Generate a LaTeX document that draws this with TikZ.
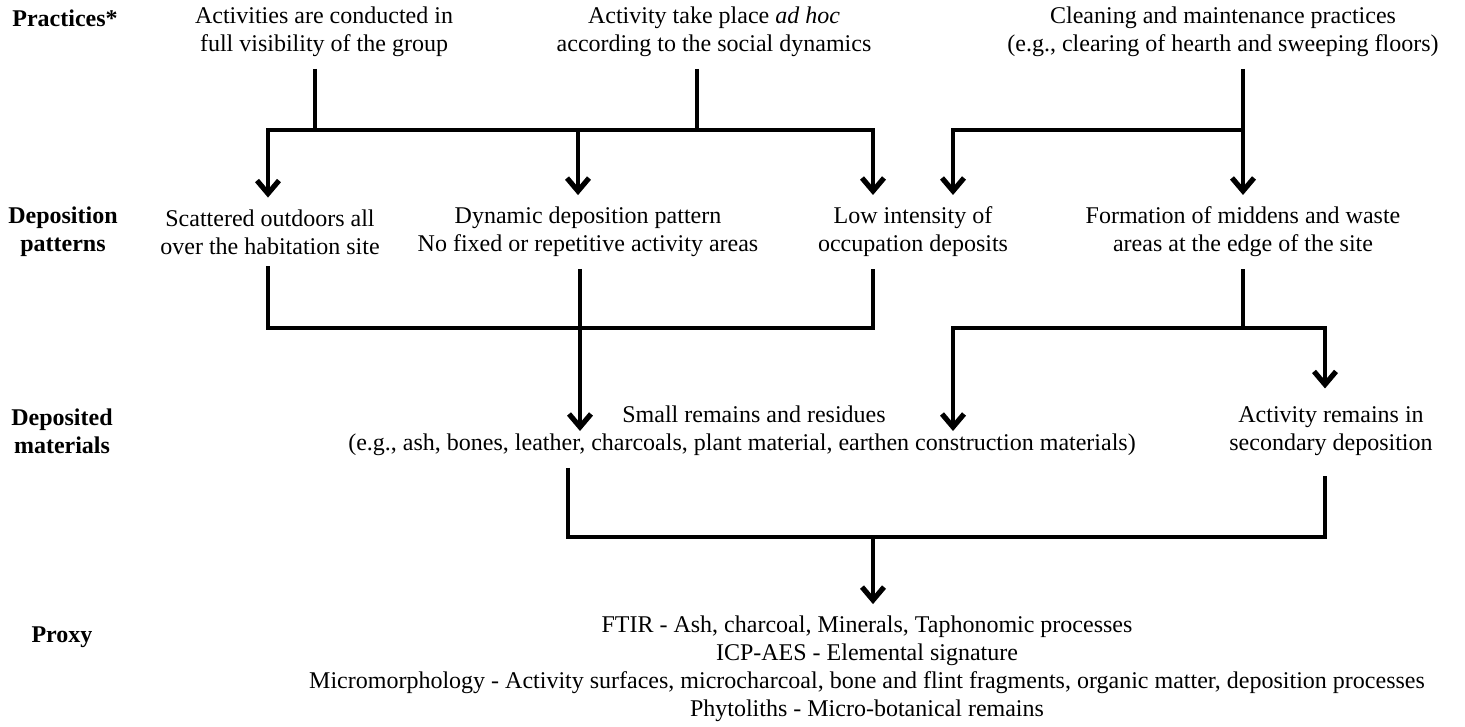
\documentclass[tikz,border=0pt]{standalone}
\usepackage{fontspec}
\setmainfont{Liberation Serif}
\usetikzlibrary{arrows.meta}

\begin{document}
\begin{tikzpicture}[
        x=0.5pt, y=-0.5pt,
        txt/.style={align=center, inner sep=0pt, outer ysep=6pt, font=\fontsize{12}{14}\selectfont},
        row_label/.style={align=center, inner sep=0pt, font=\fontsize{12}{14}\selectfont\bfseries},
        edge/.style={line width=1.8pt, draw=black},
        arrow/.style={edge, -{Straight Barb[length=6.5pt, width=11pt, line width=2.6pt]}}
    ]
        \useasboundingbox (0,0) rectangle (1465,727);

        % row labels
        \node[row_label] (lprac) at (65,18) {Practices*};
        \node[row_label] (ldepo) at (63,232) {Deposition\\patterns};
        \node[row_label] (lmat) at (62,431) {Deposited\\materials};
        \node[row_label] (lprox) at (62,637) {Proxy};

        \node[txt] (p1) at (324,32) {Activities are conducted in\\full visibility of the group};
        \node[txt] (p2) at (714,32) {Activity take place \textit{ad hoc}\\according to the social dynamics};
        \node[txt] (p3) at (1223,32) {Cleaning and maintenance practices\\(e.g., clearing of hearth and sweeping floors)};

        \node[txt] (d1) at (270,232) {Scattered outdoors all\\over the habitation site};
        \node[txt] (d2) at (588,232) {Dynamic deposition pattern\\No fixed or repetitive activity areas};
        \node[txt] (d3) at (913,232) {Low intensity of\\occupation deposits};
        \node[txt] (d4) at (1243,232) {Formation of middens and waste\\areas at the edge of the site};

        \node[txt] (m1) at (742,431) {\hspace*{12pt}Small remains and residues\\(e.g., ash, bones, leather, charcoals, plant material, earthen construction materials)};
        \node[txt] (m2) at (1331,431) {Activity remains in\\secondary deposition};

        \node[txt] (proxy) at (867,669) {FTIR - Ash, charcoal, Minerals, Taphonomic processes\\
            ICP-AES - Elemental signature\\
            Micromorphology - Activity surfaces, microcharcoal, bone and flint fragments, organic matter, deposition processes\\
            Phytoliths - Micro-botanical remains};

        % junctions
        \coordinate (a1) at (315,130);
        \coordinate (a2) at (697,130);
        \coordinate (a3) at (1243,130);
        \coordinate (c1) at (268,130);
        \coordinate (c2) at (578,130);
        \coordinate (c3) at (873,130);
        \coordinate (c4) at (953,130);

        \coordinate (b1) at (268,328);
        \coordinate (b2) at (580,328);
        \coordinate (b3) at (873,328);
        \coordinate (b4) at (1243,328);
        \coordinate (b5) at (953,328);
        \coordinate (b6) at (1325,328);

        \coordinate (e1) at (568,537);
        \coordinate (e2) at (873,537);
        \coordinate (e3) at (1325,537);

        \draw[edge] (p1.south -| a1) -- (a1);
        \draw[edge] (p2.south -| a2) -- (a2);
        \draw[arrow] (a2) -| (d1.north -| c1);
        \draw[arrow] (a2) -| (d3.north -| c3);
        \draw[arrow] (c2) -- (d2.north -| c2);

        \draw[arrow] (p3.south -| a3) -- (d4.north -| a3);
        \draw[arrow] (a3) -| (d3.north -| c4);

        \draw[edge] (d1.south -| b1) -- (b1) -- (b3) -- (d3.south -| b3);
        \draw[arrow] (d2.south -| b2) -- (m1.center -| b2);

        \draw[edge] (d4.south -| b4) -- (b4);
        \draw[arrow] (b4) -| (m1.center -| b5);
        \draw[arrow] (b4) -| ([yshift=3pt]m2.north -| b6);

        \draw[edge] (m1.south -| e1) -- (e1) -- (e3) -- ([yshift=-4pt]m2.south -| e3);
        \draw[arrow] (e2) -- (proxy.north -| e2);
    \end{tikzpicture}
\end{document}
